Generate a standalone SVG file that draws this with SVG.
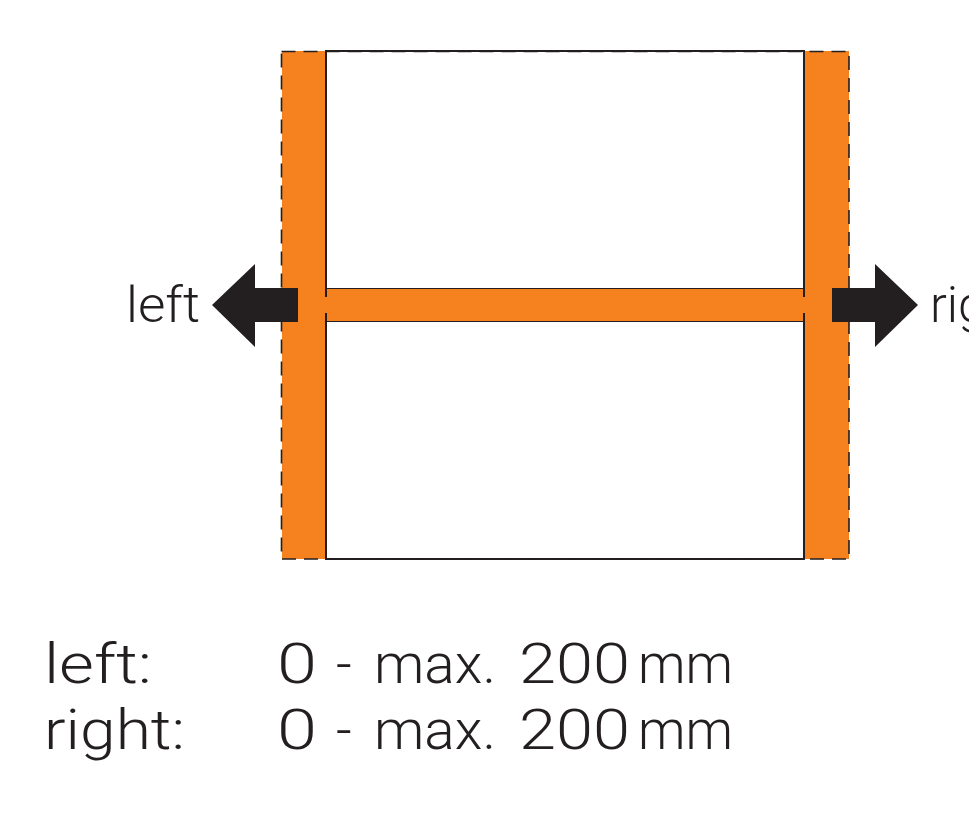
<svg xmlns="http://www.w3.org/2000/svg" width="969" height="813" viewBox="0 0 969 813">
<style>
.orange{fill:#f5821f}
.dash{fill:none;stroke:#231f20;stroke-width:1.6;stroke-dasharray:14,8}
.solid{fill:none;stroke:#231f20;stroke-width:2}
.arrow{fill:#231f20}
text{font-family:"Roboto","Liberation Sans",sans-serif;font-weight:300;fill:#231f20}
.big{font-size:55px}
</style>
<rect width="969" height="813" fill="#ffffff"/>
<g id="frame">
<rect class="solid" x="326" y="51" width="478" height="508" fill="#ffffff"/>
</g>
<g id="left-bar">
<rect class="orange" x="282" y="51" width="44" height="508"/>
</g>
<g id="right-bar">
<rect class="orange" x="804" y="51" width="45" height="508"/>
</g>
<g id="cross-bar">
<rect class="orange" x="326" y="288" width="478" height="34"/>
<line x1="327" y1="288.5" x2="804" y2="288.5" stroke="#231f20" stroke-width="1"/>
<line x1="327" y1="321.5" x2="804" y2="321.5" stroke="#231f20" stroke-width="1"/>
</g>
<g id="outlines">
<line class="solid" x1="326" y1="51" x2="326" y2="297"/>
<line class="solid" x1="326" y1="313" x2="326" y2="559"/>
<line class="solid" x1="804" y1="51" x2="804" y2="297"/>
<line class="solid" x1="804" y1="313" x2="804" y2="559"/>
<rect class="dash" x="281.5" y="51.5" width="567.5" height="507.5"/>
</g>
<g id="connectors">
<polygon id="arrow-left" class="arrow" points="298,288 255,288 255,264 212,305 255,347 255,322 298,322"/>
<polygon id="arrow-right" class="arrow" points="832,288 875,288 875,264 918,305 875,347 875,322 832,322"/>
</g>
<g id="labels">
<text x="126" y="322" font-size="50" textLength="74" lengthAdjust="spacingAndGlyphs">left</text>
<text x="930" y="322" font-size="50">right</text>
</g>
<g id="legend">
<text class="big" x="44" y="683" textLength="108" lengthAdjust="spacingAndGlyphs">left:</text>
<text class="big" x="44" y="749" textLength="141" lengthAdjust="spacingAndGlyphs">right:</text>
<text class="big" x="277" y="683" textLength="40" lengthAdjust="spacingAndGlyphs">0</text>
<text class="big" x="336" y="683">-</text>
<text class="big" x="374" y="683" textLength="122" lengthAdjust="spacingAndGlyphs">max.</text>
<text class="big" x="519" y="683" textLength="111" lengthAdjust="spacingAndGlyphs">200</text>
<text class="big" x="638" y="683" textLength="95" lengthAdjust="spacingAndGlyphs">mm</text>
<text class="big" x="277" y="749" textLength="40" lengthAdjust="spacingAndGlyphs">0</text>
<text class="big" x="336" y="749">-</text>
<text class="big" x="374" y="749" textLength="122" lengthAdjust="spacingAndGlyphs">max.</text>
<text class="big" x="519" y="749" textLength="111" lengthAdjust="spacingAndGlyphs">200</text>
<text class="big" x="638" y="749" textLength="95" lengthAdjust="spacingAndGlyphs">mm</text>
</g>
</svg>
